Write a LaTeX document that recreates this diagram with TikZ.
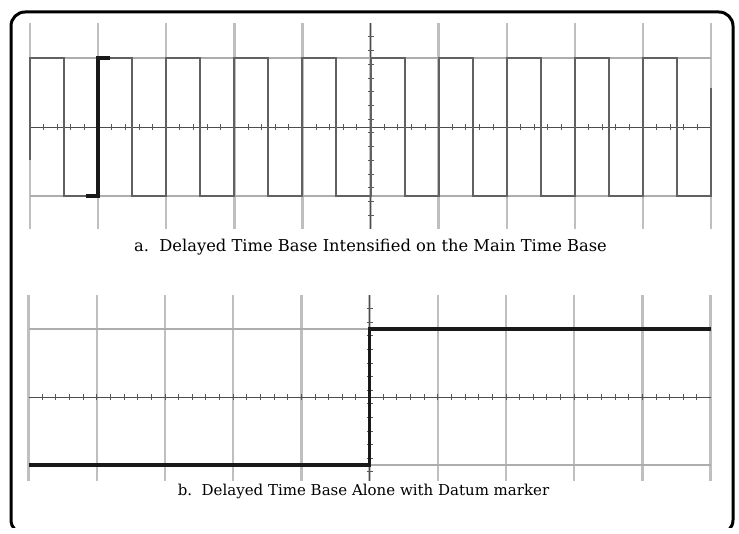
\documentclass[tikz,border=0pt]{standalone}
\usepackage{fontspec}
\setmainfont{DejaVu Serif}
\usepackage{tikz}
\colorlet{gridcolor}{black!25}
\colorlet{tracecolor}{black!62}

\begin{document}
\begin{tikzpicture}[x=1pt, y=-1pt,
    gridline/.style={gridcolor, line width=2.4pt},
    hline/.style={black!32, line width=1.4pt},
    axisline/.style={black!70, line width=0.9pt},
    tickmark/.style={black!65, line width=0.8pt},
    trace/.style={tracecolor, line width=2pt},
    bright/.style={black!90, line width=3.4pt},
    caption/.style={inner sep=0pt}]
  \useasboundingbox (0,0) rectangle (739,534);

  % outer frame, open at the bottom
  \begin{scope}
    \clip (0,0) rectangle (739,527.5);
    \draw[line width=3pt, rounded corners=14pt] (11,12) rectangle (733,534);
  \end{scope}

  % a. main time base
  \begin{scope}
    \foreach \i in {0,...,10}
      \draw[gridline] ({30+68.1*\i},23) -- ({30+68.1*\i},229);
    \foreach \y in {58,196}
      \draw[hline] (30,\y) -- (711,\y);
    \draw[axisline] (30,127) -- (711,127);
    \draw[axisline] (370.5,23) -- (370.5,229);
    \foreach \i in {1,...,49}
      \draw[tickmark] ({30+13.62*\i},124) -- ({30+13.62*\i},130);
    \foreach \j in {1,...,14}
      \draw[tickmark] (367.5,{23+13.73*\j}) -- (373.5,{23+13.73*\j});

    \draw[trace] (30,160) -- (30,58)
      \foreach \k in {0,...,8} {
        -- ({30+68.1*\k+34.05},58) -- ({30+68.1*\k+34.05},196)
        -- ({30+68.1*(\k+1)},196) -- ({30+68.1*(\k+1)},58)
      }
      -- (677,58) -- (677,196) -- (711,196) -- (711,88);
    \draw[bright] (86,196) -- (98.1,196) -- (98.1,58) -- (110,58);

    \node[caption, font=\fontsize{16.3}{19}\selectfont] (capA) at (370.5,247)
      {a.\ \ Delayed Time Base Intensified on the Main Time Base};
  \end{scope}

  % b. delayed time base alone
  \begin{scope}
    \foreach \i in {0,...,10}
      \draw[gridline] ({28.5+68.2*\i},295) -- ({28.5+68.2*\i},481);
    \foreach \y in {329,465}
      \draw[hline] (28.5,\y) -- (710.5,\y);
    \draw[axisline] (28.5,397) -- (710.5,397);
    \draw[axisline] (369.5,295) -- (369.5,481);
    \foreach \i in {1,...,49}
      \draw[tickmark] ({28.5+13.64*\i},394) -- ({28.5+13.64*\i},400);
    \foreach \j in {1,...,13}
      \draw[tickmark] (366.5,{295+13.6*\j}) -- (372.5,{295+13.6*\j});

    \draw[bright] (28.5,465) -- (369.5,465) -- (369.5,329) -- (710.5,329);

    \node[caption, font=\fontsize{15}{18}\selectfont] (capB) at (363.5,491)
      {b.\ \ Delayed Time Base Alone with Datum marker};
  \end{scope}
\end{tikzpicture}
\end{document}
